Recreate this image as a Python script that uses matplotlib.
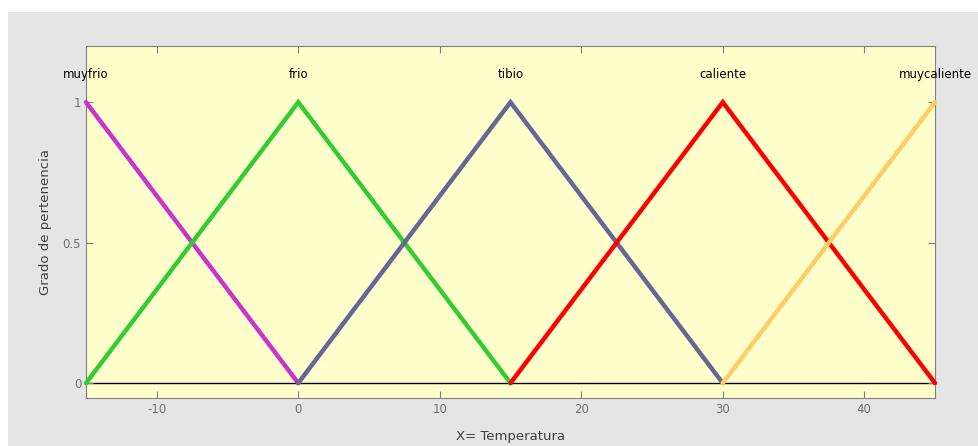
import matplotlib.pyplot as plt
from matplotlib.patches import Rectangle

plt.rcParams["axes.unicode_minus"] = False

# membership functions (triangles) for temperature
names = ["muyfrio", "frio", "tibio", "caliente", "muycaliente"]
xs = [
    [-15, 0],
    [-15, 0, 15],
    [0, 15, 30],
    [15, 30, 45],
    [30, 45],
]
ys = [
    [1, 0],
    [0, 1, 0],
    [0, 1, 0],
    [0, 1, 0],
    [0, 1],
]
peaks = [-15, 0, 15, 30, 45]
colors = ["#cc33cc", "#33cc33", "#666699", "#ff0000", "#ffcc66"]

fig = plt.figure(figsize=(9.79, 4.46), dpi=100, facecolor="white")
fig.patches.append(Rectangle((8 / 979, 0), 1, 1 - 12 / 446, transform=fig.transFigure,
                             facecolor="#e5e5e5", edgecolor="none", zorder=-10))
ax = fig.add_axes([86 / 979, 48 / 446, (935 - 86) / 979, (398 - 46) / 446])
ax.set_facecolor("#ffffcc")

ax.axhline(0, color="black", lw=1, zorder=1)
for x, y, c in zip(xs, ys, colors):
    ax.plot(x, y, color=c, lw=3.2, solid_capstyle="round", solid_joinstyle="miter",
            clip_on=False, zorder=3)
for n, p in zip(names, peaks):
    ax.text(p, 1.1, n, ha="center", va="center", fontsize=8.5, color="black")

ax.set_xlim(-15, 45)
ax.set_ylim(-0.053, 1.2)
ax.set_xticks([-10, 0, 10, 20, 30, 40])
ax.set_yticks([0, 0.5, 1])
ax.set_yticklabels(["0", "0.5", "1"])
ax.tick_params(direction="in", top=True, right=True, colors="#808080",
               labelcolor="#707070", labelsize=8.5, length=5, width=0.8)
for s in ax.spines.values():
    s.set_color("#808080")
ax.set_xlabel("X= Temperatura", fontsize=9.5, color="#404040", labelpad=10)
ax.set_ylabel("Grado de pertenencia", fontsize=9.5, color="#404040", labelpad=8)

fig.savefig("out.png", dpi=100)
